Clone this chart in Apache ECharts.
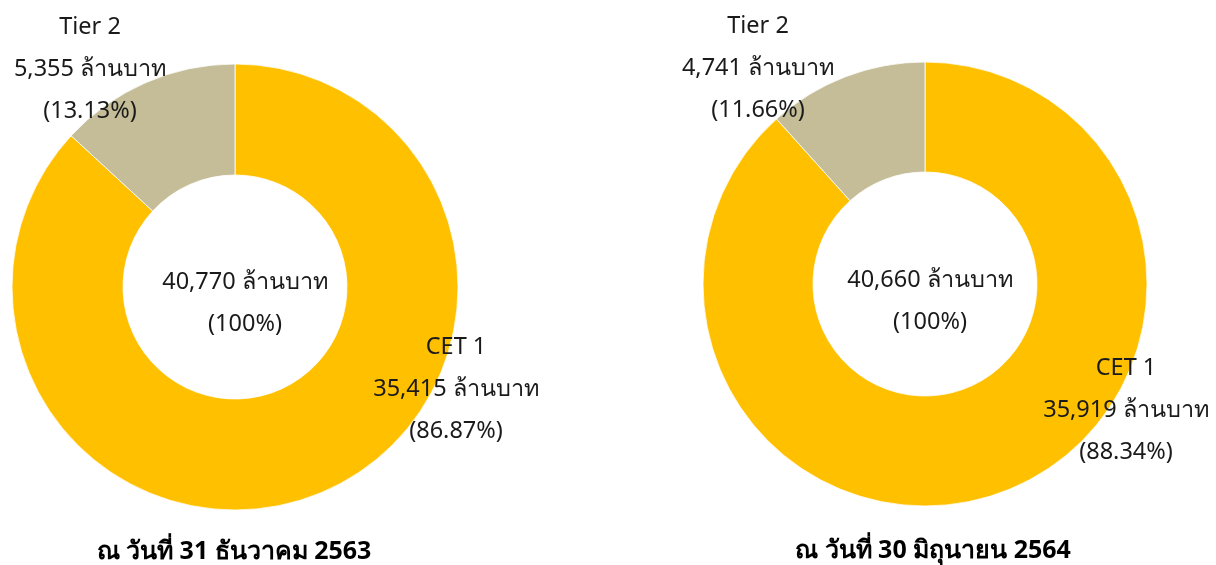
<!DOCTYPE html>
<html>
<head>
<meta charset="utf-8">
<script src="https://cdn.jsdelivr.net/npm/echarts@6/dist/echarts.min.js"></script>
<style>
  html, body { margin: 0; padding: 0; background: #fff; }
  #main { width: 1216px; height: 565px; }
</style>
</head>
<body>
<div id="main"></div>
<script>
// ข้อมูลเงินกองทุน
var names = ["CET 1", "Tier 2"];
var dec2563 = [35415, 5355];
var dec2563Pct = ["86.87%", "13.13%"];
var jun2564 = [35919, 4741];
var jun2564Pct = ["88.34%", "11.66%"];
var totals = ["40,770", "40,660"];
var dateTitles = ["ณ วันที่ 31 ธันวาคม 2563", "ณ วันที่ 30 มิถุนายน 2564"];

var FONT = "'Noto Sans', sans-serif";
var colors = ["#FFC000", "#C4BD97"];

// ตำแหน่ง label (x กลางข้อความ, y บรรทัดแรก)
var labelPos = [
  [[456, 347], [90, 27]],
  [[1126, 368], [758, 26]]
];

function fmt(v) {
  return v.toLocaleString("en-US");
}

function makeSeries(idx, values, pcts, center, radius) {
  return {
    type: "pie",
    center: center,
    radius: radius,
    startAngle: 90,
    clockwise: true,
    silent: true,
    itemStyle: { borderColor: "#fff", borderWidth: 0.8 },
    label: {
      show: true,
      position: "inside",
      fontFamily: FONT,
      fontSize: 23.5,
      lineHeight: 42,
      color: "#1a1a1a",
      align: "center",
      formatter: function (p) {
        return p.name + "\n" + fmt(p.value) + " ล้านบาท\n(" + pcts[p.dataIndex] + ")";
      }
    },
    labelLine: { show: false },
    labelLayout: function (p) {
      var pos = labelPos[idx][p.dataIndex];
      return { x: pos[0], y: pos[1] + 42, align: "center", verticalAlign: "middle" };
    },
    data: values.map(function (v, i) {
      return { name: names[i], value: v, itemStyle: { color: colors[i] } };
    })
  };
}

var chart = echarts.init(document.getElementById("main"));
chart.setOption({
  animation: false,
  backgroundColor: "#fff",
  title: [
    { text: dateTitles[0], left: 229, top: 534, textAlign: "center",
      textStyle: { fontFamily: FONT, fontSize: 25, fontWeight: "bold", color: "#000" } },
    { text: dateTitles[1], left: 928, top: 533, textAlign: "center",
      textStyle: { fontFamily: FONT, fontSize: 25, fontWeight: "bold", color: "#000" } },
    { text: totals[0] + " ล้านบาท\n(100%)", left: 240, top: 256, textAlign: "center",
      textStyle: { fontFamily: FONT, fontSize: 23.5, fontWeight: "normal", color: "#1a1a1a", lineHeight: 42 } },
    { text: totals[1] + " ล้านบาท\n(100%)", left: 925, top: 254, textAlign: "center",
      textStyle: { fontFamily: FONT, fontSize: 23.5, fontWeight: "normal", color: "#1a1a1a", lineHeight: 42 } }
  ],
  series: [
    makeSeries(0, dec2563, dec2563Pct, [235, 287], [112, 223]),
    makeSeries(1, jun2564, jun2564Pct, [925, 284], [112, 222])
  ]
});
</script>
</body>
</html>
